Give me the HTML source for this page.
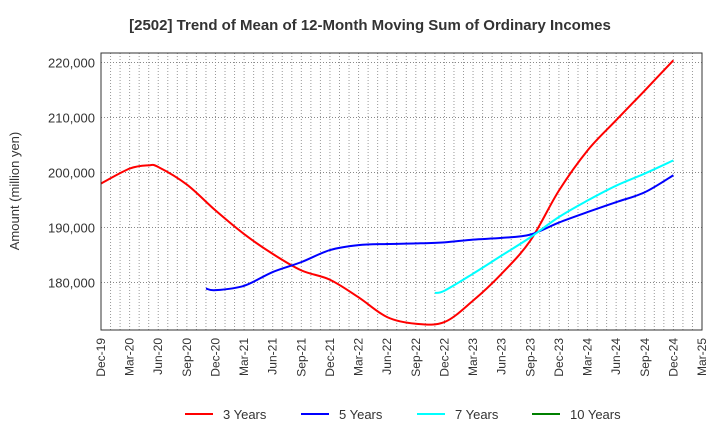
<!DOCTYPE html>
<html><head><meta charset="utf-8"><style>
body{margin:0;background:#fff;font-family:"Liberation Sans",Arial,sans-serif}
</style></head><body>
<svg width="720" height="440" xmlns="http://www.w3.org/2000/svg" font-family="Liberation Sans, Arial, sans-serif">
<text x="370" y="30" text-anchor="middle" font-size="15" font-weight="bold" fill="#333">[2502]  Trend of Mean of 12-Month Moving Sum of Ordinary Incomes</text>
<text transform="translate(19,191) rotate(-90)" text-anchor="middle" font-size="13" fill="#333">Amount (million yen)</text>
<g id="grid"></g>
<g id="series"></g>
<rect x="101" y="53" width="601" height="277" fill="none" stroke="#333" stroke-width="1"/>
<g id="axes"></g>
<g id="legend"></g>
</svg>
<script>
const xLabels=["Dec-19","Mar-20","Jun-20","Sep-20","Dec-20","Mar-21","Jun-21","Sep-21","Dec-21","Mar-22","Jun-22","Sep-22","Dec-22","Mar-23","Jun-23","Sep-23","Dec-23","Mar-24","Jun-24","Sep-24","Dec-24","Mar-25"];
const yTicks=[180000,190000,200000,210000,220000];
// month offsets from Dec-19
const months3=[0,3,5,6,9,12,15,18,21,24,27,30,33,36,39,42,45,48,51,54,57,60];
const values3=[198000,200700,201300,201000,197800,193100,188800,185200,182200,180500,177300,173700,172500,172800,176700,181600,187600,196700,204000,209500,214900,220400];
const months5=[11,12,15,18,21,24,27,30,33,36,39,42,45,48,51,54,57,60];
const values5=[178900,178600,179400,181900,183700,185900,186800,187000,187100,187300,187800,188100,188700,190900,192800,194600,196400,199500];
const months7=[35,36,39,42,45,48,51,54,57,60];
const values7=[178100,178500,181600,184900,188200,191900,194900,197600,199800,202200];
const months10=[];
const values10=[];
const X0=101,X1=702,Y0=330,Y1=53,NM=63,VMIN=171360,VMAX=221720;
const xs=m=>X0+(X1-X0)*m/NM;
const ys=v=>Y0-(Y0-Y1)*(v-VMIN)/(VMAX-VMIN);
const NS="http://www.w3.org/2000/svg";
function mk(t,a,p){const e=document.createElementNS(NS,t);for(const k in a)e.setAttribute(k,a[k]);p.appendChild(e);return e;}
const grid=document.getElementById('grid'),axes=document.getElementById('axes'),ser=document.getElementById('series'),leg=document.getElementById('legend');
for(let m=1;m<NM;m++){const l=mk('line',{x1:xs(m),x2:xs(m),y1:Y1,y2:Y0,stroke:'#999','stroke-width':1,'stroke-dasharray':'1,2'},grid);

}
yTicks.forEach(v=>{const l=mk('line',{x1:X0,x2:X1,y1:ys(v),y2:ys(v),stroke:'#888','stroke-width':1,'stroke-dasharray':'1,2'},grid);


const t=mk('text',{x:X0-6,y:ys(v)+5,'text-anchor':'end','font-size':13,fill:'#333'},axes);
t.textContent=v.toLocaleString('en-US');

});
xLabels.forEach((s,i)=>{const x=xs(i*3);const t=mk('text',{transform:`translate(${x+4},338) rotate(-90)`,'text-anchor':'end','font-size':12,fill:'#333'},axes);
t.textContent=s;

});
function path(ms,vs){if(!ms.length)return '';const p=ms.map((m,i)=>[xs(m),ys(vs[i])]);let d=`M${p[0][0]},${p[0][1]}`;
for(let i=0;i<p.length-1;i++){const a=p[i-1]||p[i],b=p[i],c=p[i+1],e=p[i+2]||c;
d+=` C${b[0]+(c[0]-a[0])/6},${b[1]+(c[1]-a[1])/6} ${c[0]-(e[0]-b[0])/6},${c[1]-(e[1]-b[1])/6} ${c[0]},${c[1]}`;}return d;}
[[months3,values3,'#ff0000','series-3-years'],[months5,values5,'#0000ff','series-5-years'],[months7,values7,'#00ffff','series-7-years'],[months10,values10,'#008000','series-10-years']].forEach(([m,v,c,n])=>{
if(!m.length)return;const p=mk('path',{d:path(m,v),fill:'none',stroke:c,'stroke-width':2},ser);

});
[['3 Years','#ff0000',185],['5 Years','#0000ff',301],['7 Years','#00ffff',417],['10 Years','#008000',532]].forEach(([s,c,x])=>{
const g=mk('g',{},leg);


mk('line',{x1:x,x2:x+28,y1:414,y2:414,stroke:c,'stroke-width':2},g);
const t=mk('text',{x:x+38,y:419,'font-size':13,fill:'#333'},g);t.textContent=s;});
</script>
</body></html>
